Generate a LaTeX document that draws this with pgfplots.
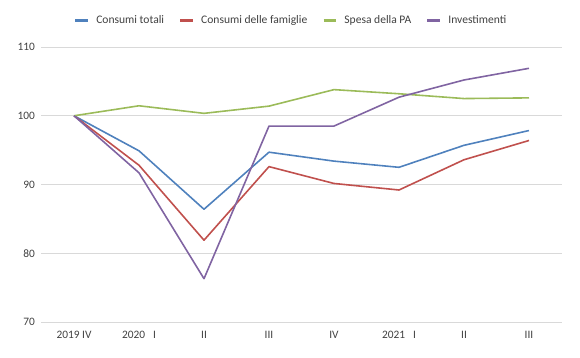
\documentclass[border=0pt]{standalone}
\usepackage{pgfplots}
\pgfplotsset{compat=1.18}
\usepackage{fontspec}
\setmainfont{Carlito}
\definecolor{cblue}{HTML}{4F81BD}
\definecolor{cred}{HTML}{C0504D}
\definecolor{cgreen}{HTML}{9BBB59}
\definecolor{cpurple}{HTML}{8064A2}
\definecolor{cgrid}{HTML}{D9D9D9}
\definecolor{ctext}{HTML}{404040}
\begin{document}
\begin{tikzpicture}
\useasboundingbox (-41.5bp,-36bp) rectangle (538.5bp,322bp);
\begin{axis}[
  at={(0,0)}, anchor=south west,
  scale only axis, width=520bp, height=275bp,
  xmin=-0.5, xmax=7.5, ymin=70, ymax=110,
  ytick={70,80,90,100,110},
  xtick={0,...,7},
  xticklabels={2019 IV,2020\hspace{8bp}I,II,III,IV,2021\hspace{8bp}I,II,III},
  axis line style={draw=none},
  major tick length=0pt,
  ymajorgrids, major grid style={cgrid, line width=0.8pt},
  tick label style={font=\fontsize{11.4}{13}\selectfont, text=ctext},
  /pgf/number format/assume math mode=true,
  yticklabel style={xshift=-3bp},
  xticklabel style={yshift=-5.5bp},
  legend columns=4,
  legend style={at={(0.478,1)}, anchor=south, yshift=18bp, draw=none, fill=none,
    font=\fontsize{11.6}{13}\selectfont, text=ctext,
    nodes={inner xsep=0pt},
    /tikz/every odd column/.append style={column sep=6.7bp},
    /tikz/every even column/.append style={column sep=14.7bp}},
  legend image code/.code={\draw[line width=3pt,line cap=butt] (0bp,0bp) -- (12.7bp,0bp);},
  every axis plot/.append style={line width=1.6pt, line join=round},
]
\addplot[cblue] coordinates {(0,100) (1,94.9) (2,86.4) (3,94.7) (4,93.4) (5,92.5) (6,95.7) (7,97.85)};
\addlegendentry{Consumi totali}
\addplot[cred] coordinates {(0,100) (1,92.8) (2,81.9) (3,92.6) (4,90.15) (5,89.2) (6,93.6) (7,96.4)};
\addlegendentry{Consumi delle famiglie}
\addplot[cgreen] coordinates {(0,100) (1,101.45) (2,100.35) (3,101.4) (4,103.8) (5,103.2) (6,102.5) (7,102.6)};
\addlegendentry{Spesa della PA}
\addplot[cpurple] coordinates {(0,100) (1,91.7) (2,76.3) (3,98.5) (4,98.5) (5,102.7) (6,105.2) (7,106.9)};
\addlegendentry{Investimenti}
\end{axis}
\end{tikzpicture}
\end{document}
